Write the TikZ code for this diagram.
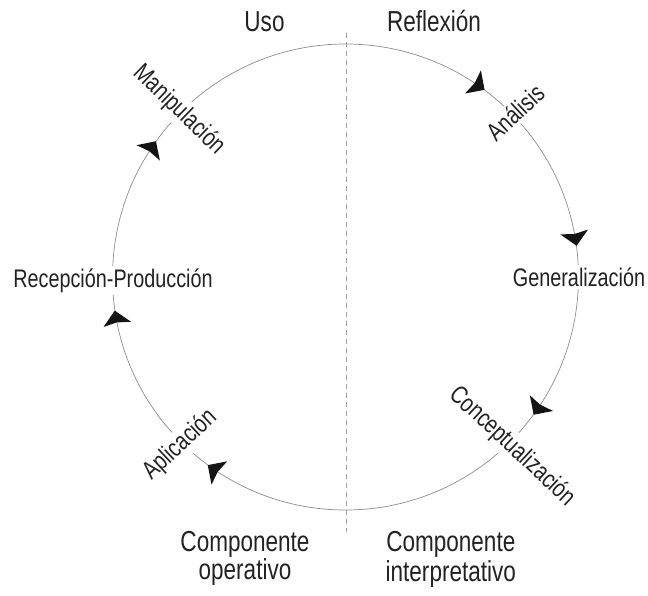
\documentclass[tikz,border=0pt]{standalone}
\usepackage{fontspec}
\setmainfont[FakeStretch=0.78]{Liberation Sans}
\usetikzlibrary{calc}
\definecolor{txt}{HTML}{222222}
\definecolor{ringcol}{HTML}{8C8C8C}
\definecolor{dashcol}{HTML}{A0A0A0}
\begin{document}
\begin{tikzpicture}[x=1bp,y=1bp,
  ring/.style={draw=ringcol, line width=0.7bp},
  divider/.style={draw=dashcol, line width=0.7bp, dash pattern=on 5bp off 4bp},
  lbl/.style={fill=white, inner sep=2.5bp, text=txt, font=\fontsize{25.5}{30}\selectfont},
  biglbl/.style={inner sep=0pt, text=txt, font=\fontsize{29}{34}\selectfont, anchor=base},
  headfill/.style={fill=black!92}
]
\useasboundingbox (0,0) rectangle (648,596);
\coordinate (C) at (345.5,319);
\coordinate (dtop) at (346,563);
\coordinate (dbot) at (346,64);
% dashed divider
\draw[divider] (dtop) -- (dbot);
% circle
\draw[ring] (C) circle (233);
% arrowheads (clockwise)
\foreach \a in {55.6,9.9,-34,-124,-169.5,146.6}{
  \fill[headfill, shift={(C)}, shift={(\a:233)}, rotate={\a-90}]
    (9,0) -- (-5,14) -- (-3,0) -- (-5,-14) -- cycle;
}
% circle labels
\node[lbl, rotate=43] (ana) at (515,483.6) {Análisis};
\node[lbl] (gen) at (579,319) {Generalización};
\node[lbl, rotate=-43] (con) at (512.3,149.3) {Conceptualización};
\node[lbl, rotate=43] (apl) at (180,151) {Aplicación};
\node[lbl, anchor=base] (rec) at (113,308.7) {Recepción-Producción};
\node[lbl, rotate=-44] (man) at (179,486) {Manipulación};
% outer labels
\node[biglbl] (uso) at (264.5,564) {Uso};
\node[biglbl] (ref) at (434,564) {Reflexión};
\node[biglbl] (co1) at (245,44) {Componente};
\node[biglbl] (co2) at (245,16) {operativo};
\node[biglbl] (ci1) at (450.8,44) {Componente};
\node[biglbl] (ci2) at (450.8,14.3) {interpretativo};
\end{tikzpicture}
\end{document}
